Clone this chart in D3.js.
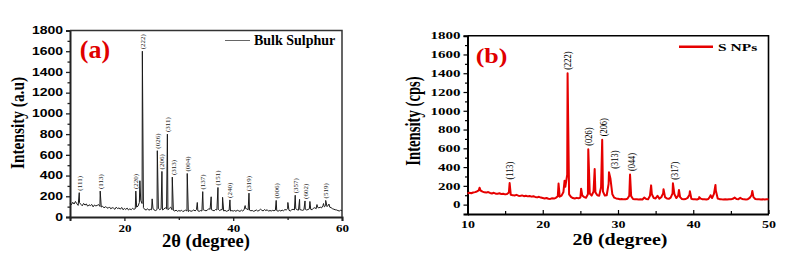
<!DOCTYPE html>
<html><head><meta charset="utf-8">
<script src="https://cdn.jsdelivr.net/npm/d3@7"></script>
<style>html,body{margin:0;padding:0;background:#fff;}svg{display:block;}</style>
</head><body>
<svg id="c" width="787" height="260"></svg>
<script>
// ---------- Panel (a): Bulk Sulphur ----------
const aStart = 10, aStep = 0.25;
const aBaseline = [
 135,118,142,125, 150,128,112,138, 122,108,131,115, 126,104,118,110, 121,98,116,107,
 112,120,102,96, 104,88,99,92, 84,97,79,90, 86,74,95,81, 88,76,92,70,
 82,73,86,68, 79,70,84,74, 80,95,105,140, 160,130,90,72, 68,80,65,74,
 70,85,66,62, 72,85,70,80, 68,75,90,78, 70,82,95,70, 64,58,66,55,
 62,57,65,52, 60,66,58,52, 63,55,60,68, 58,72,60,55, 62,58,70,64,
 60,66,80,75, 70,64,60,72, 68,75,62,70, 72,58,64,55, 60,66,58,62,
 57,63,55,65, 60,54,66,58, 70,84,78,70, 66,60,63,55, 60,68,58,62,
 75,66,58,72, 62,70,56,63, 58,64,60,66, 62,56,64,58, 66,60,72,68,
 80,65,58,70, 75,68,80,70, 66,72,68,64, 70,75,68,72, 80,74,70,85,
 90,80,95,88, 95,88,110,98, 110,100,115,95, 90,80,75,70, 68,62,58,65,
 60
];
const aPeaks = [
 [11.7,235],[15.55,250],[22.1,250],[22.85,350],[23.3,1600],[25.1,175],[26.05,640],
 [26.9,440],[27.9,800],[28.8,385],[31.55,420],[33.4,140],[34.4,245],[35.95,195],
 [37.2,285],[38.05,190],[39.4,165],[42.2,110],[42.9,230],[47.9,160],[50.05,140],
 [51.4,210],[52.2,170],[53.2,155],[54.1,150],[55.4,120],[56.6,130],[57.0,160],[57.6,125]
];
const aLabels = [
 ["(111)",11.7,235],["(113)",15.55,250],["(220)",22.1,250],["(222)",23.3,1600],
 ["(026)",26.05,640],["(206)",26.9,440],["(311)",27.9,800],["(313)",29.0,385],
 ["(004)",31.55,420],["(137)",34.4,245],["(151)",37.2,285],["(240)",39.4,165],
 ["(319)",42.9,230],["(006)",47.9,160],["(357)",51.4,210],["(602)",53.2,155],["(519)",57.0,160]
];
const aXTicks = [20,40,60];
const aYTicks = [0,200,400,600,800,1000,1200,1400,1600,1800];

// ---------- Panel (b): S NPs ----------
const bStart = 10, bStep = 0.25;
const bBaseline = [
 118,126,121,129, 133,140,152,150, 138,131,128,134, 124,119,126,117, 116,121,112,115,
 109,113,130,104, 101,97,104,95, 93,98,90,95, 88,92,85,89, 82,77,83,75,
 70,65,71,63, 61,67,64,72, 90,85,96,135, 190,320,110,82, 70,65,72,67,
 76,98,80,74, 110,118,96,140, 130,100,95,185, 140,96,100,220, 275,110,74,66,
 62,58,60,56, 58,62,95,90, 60,56,58,55, 57,55,75,60, 58,95,110,70,
 66,95,64,78, 120,80,65,62, 75,120,110,70, 95,80,60,57, 60,72,105,62,
 56,58,55,62, 64,56,58,54, 60,88,70,115, 150,65,58,56, 55,57,54,58,
 56,62,75,60, 58,72,60,56, 55,58,72,100, 80,60,56,58, 55,57,54,56,
 58
];
const bPeaks = [
 [11.6,180],[15.6,230],[22.1,225],[22.9,255],[23.3,1400],[25.1,170],[26.05,590],
 [26.9,380],[27.9,690],[28.8,345],[31.6,320],[34.4,205],[36.05,165],[37.3,227],
 [38.1,157],[39.55,142],[40.8,80],[42.3,100],[42.95,210],[47.85,146]
];
const bLabels = [
 ["(113)",15.6,230],["(222)",23.3,1400],["(026)",26.05,590],["(206)",28.1,690],
 ["(313)",29.5,345],["(044)",31.8,320],["(317)",37.5,227]
];
const bXTicks = [10,20,30,40,50];
const bYTicks = [0,200,400,600,800,1000,1200,1400,1600,1800];

// ---------- helpers ----------
const svg = d3.select("#c");
const fmt = d3.format("d");
function buildSeries(start, step, base, peaks){
  const pts = base.map((v,i)=>[start+i*step, v]).concat(peaks);
  pts.sort((p,q)=>p[0]-q[0]);
  return pts;
}
function txt(x, y, str, o){
  return svg.append("text")
    .attr("transform", `translate(${x},${y}) scale(1,${o.ky||1}) rotate(${o.rot||0})`)
    .attr("font-family", o.family || "'Liberation Serif','Times New Roman',serif")
    .attr("font-weight", o.weight || "bold")
    .attr("font-size", o.size)
    .attr("fill", o.fill || "#000")
    .attr("text-anchor", o.anchor || "middle")
    .attr("dominant-baseline", o.baseline || "auto")
    .text(str);
}

// ================= Panel (a) =================
const xa = d3.scaleLinear().domain([10,60]).range([70,342]);
const ya = d3.scaleLinear().domain([0,1800]).range([217,30.5]);
const ga = svg.append("g");

ga.append("g").attr("transform","translate(0,217)")
  .call(d3.axisBottom(xa).tickValues([10,30,50]).tickSize(3).tickFormat(""))
  .call(g=>g.select(".domain").remove());
ga.append("g").attr("transform","translate(70,0)")
  .call(d3.axisLeft(ya).tickValues(d3.range(100,1800,200)).tickSize(2.5).tickFormat(""))
  .call(g=>g.select(".domain").remove());

const axA_x = ga.append("g").attr("transform","translate(0,217)")
  .call(d3.axisBottom(xa).tickValues(aXTicks).tickSize(4).tickFormat(fmt));
axA_x.selectAll("text")
  .attr("font-family","'Liberation Serif','Times New Roman',serif")
  .attr("font-weight","bold").attr("font-size",13).attr("fill","#000")
  .attr("transform","scale(1,0.85)").attr("y",9);
const axA_y = ga.append("g").attr("transform","translate(70,0)")
  .call(d3.axisLeft(ya).tickValues(aYTicks).tickSize(4).tickPadding(3).tickFormat(fmt));
axA_y.selectAll("text")
  .attr("font-family","'Liberation Sans',Arial,sans-serif")
  .attr("font-weight","bold").attr("font-size",14).attr("fill","#000")
  .attr("transform","scale(1,0.72)");
[axA_x, axA_y].forEach(a=>{a.select(".domain").attr("stroke","#222").attr("stroke-width",2);});
ga.selectAll(".tick line").attr("stroke","#222").attr("stroke-width",1.3);
ga.append("path").attr("d",`M70,30.5H342V217`).attr("fill","none").attr("stroke","#333").attr("stroke-width",1.5);

const lineA = d3.line().x(d=>xa(d[0])).y(d=>ya(d[1]));
ga.append("path").datum(buildSeries(aStart,aStep,aBaseline,aPeaks))
  .attr("d",lineA).attr("fill","none").attr("stroke","#1a1a1a").attr("stroke-width",1).attr("stroke-linejoin","round");

aLabels.forEach(([s,x,h])=>{
  txt(xa(x)+0.5, ya(h)-2, s, {size:7, weight:"normal", rot:-90, anchor:"start", baseline:"central", fill:"#222"});
});
ga.append("line").attr("x1",225).attr("x2",250).attr("y1",40.5).attr("y2",40.5).attr("stroke","#666").attr("stroke-width",1);
txt(254, 44.5, "Bulk Sulphur", {size:14, anchor:"start"});
txt(95, 58, "(a)", {size:26, fill:"#e00000"});
txt(206, 247, "2θ (degree)", {size:18.5});
txt(24, 123, "Intensity (a.u)", {size:18.5, ky:0.83, rot:-90});

// ================= Panel (b) =================
const xb = d3.scaleLinear().domain([10,50]).range([467.5,768.5]);
const yb = d3.scaleLinear().domain([-100,1800]).range([214,35.7]);
const gb = svg.append("g");

gb.append("g").attr("transform","translate(0,214)")
  .call(d3.axisTop(xb).tickValues([15,25,35,45]).tickSize(3).tickFormat(""))
  .call(g=>g.select(".domain").remove());
gb.append("g").attr("transform","translate(467.5,0)")
  .call(d3.axisLeft(yb).tickValues(d3.range(-100,1800,200)).tickSize(2.5).tickFormat(""))
  .call(g=>g.select(".domain").remove());

const axB_x = gb.append("g").attr("transform","translate(0,214)")
  .call(d3.axisBottom(xb).tickValues(bXTicks).tickSize(0).tickFormat(fmt));
gb.append("g").attr("transform","translate(0,214)")
  .call(d3.axisTop(xb).tickValues(bXTicks).tickSize(4).tickFormat(""))
  .call(g=>g.select(".domain").remove());
axB_x.selectAll("text")
  .attr("font-family","'Liberation Serif','Times New Roman',serif")
  .attr("font-weight","bold").attr("font-size",14).attr("fill","#000")
  .attr("transform","scale(1,0.74)").attr("y",9);
const axB_y = gb.append("g").attr("transform","translate(467.5,0)")
  .call(d3.axisLeft(yb).tickValues(bYTicks).tickSize(4).tickPadding(3).tickFormat(fmt));
axB_y.selectAll("text")
  .attr("font-family","'Liberation Serif','Times New Roman',serif")
  .attr("font-weight","bold").attr("font-size",15).attr("fill","#000")
  .attr("transform","scale(1,0.68)");
[axB_x, axB_y].forEach(a=>{a.select(".domain").attr("stroke","#000").attr("stroke-width",2);});
gb.selectAll(".tick line").attr("stroke","#000").attr("stroke-width",1.2);
gb.append("path").attr("d",`M467.5,35.7H768.5V214`).attr("fill","none").attr("stroke","#000").attr("stroke-width",1.6);

const lineB = d3.line().x(d=>xb(d[0])).y(d=>yb(d[1]));
gb.append("path").datum(buildSeries(bStart,bStep,bBaseline,bPeaks))
  .attr("d",lineB).attr("fill","none").attr("stroke","#e60000").attr("stroke-width",2).attr("stroke-linejoin","round");

bLabels.forEach(([s,x,h])=>{
  txt(xb(x), yb(h)-3.5, s, {size:10.5, weight:"normal", ky:0.8, rot:-90, anchor:"start", baseline:"central"});
});
gb.append("line").attr("x1",679).attr("x2",713).attr("y1",46.7).attr("y2",46.7).attr("stroke","#e60000").attr("stroke-width",2.5);
txt(718, 50.5, "S NPs", {size:15.5, ky:0.72, anchor:"start"});
txt(491.5, 63, "(b)", {size:26, ky:0.78, fill:"#e00000"});
txt(620, 244.5, "2θ (degree)", {size:20, ky:0.79});
txt(420, 121, "Intensity (cps)", {size:21, ky:0.7, rot:-90});
</script>
</body></html>
